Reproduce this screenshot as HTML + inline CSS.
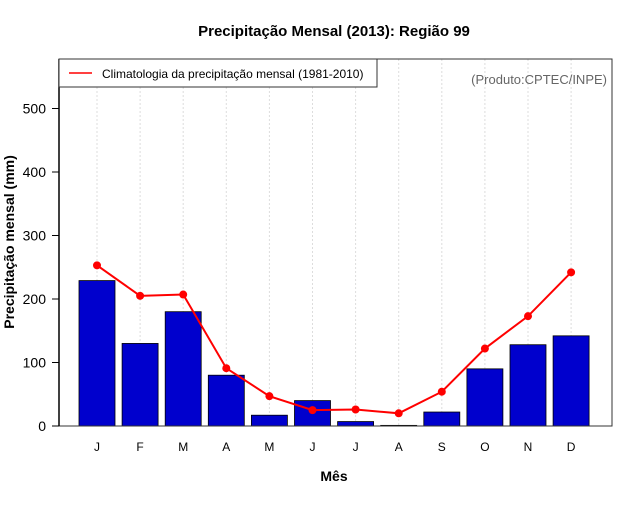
<!DOCTYPE html>
<html><head><meta charset="utf-8"><style>
body{margin:0;background:#fff;}
svg text{font-family:"Liberation Sans",sans-serif;}
</style></head><body>
<svg id="c" width="640" height="500" xmlns="http://www.w3.org/2000/svg">
<rect width="640" height="500" fill="#fff"/>
<text x="334" y="36" text-anchor="middle" font-size="15" font-weight="bold">Precipitação Mensal (2013): Região 99</text>
<g id="grid"></g>
<g id="bars"></g>
<g id="line"></g>
<rect x="59" y="59" width="553" height="367" fill="none" stroke="#333" stroke-width="1"/>
<line x1="59" y1="59" x2="59" y2="426" stroke="#000" stroke-width="1.5"/>
<g id="yticks"></g>
<g id="xticks"></g>
<text x="334" y="481" text-anchor="middle" font-size="14" font-weight="bold">Mês</text>
<text transform="translate(14,242) rotate(-90)" text-anchor="middle" font-size="14" font-weight="bold">Precipitação mensal (mm)</text>
<g>
<rect x="59" y="59" width="318" height="28" fill="#fff" stroke="#333"/>
<line x1="69" y1="73" x2="92" y2="73" stroke="#f00" stroke-width="1.5"/>
<text x="102" y="78" font-size="12">Climatologia da precipitação mensal (1981-2010)</text>
</g>
<text x="607" y="84" text-anchor="end" font-size="13" fill="#666">(Produto:CPTEC/INPE)</text>
</svg>
<script>
const months=["J","F","M","A","M","J","J","A","S","O","N","D"];
const observed=[229,130,180,80,17,40,7,1,22,90,128,142];
const climatology=[253,205,207,91,47,25,26,20,54,122,173,242];
const yTicks=[0,100,200,300,400,500];
const NS="http://www.w3.org/2000/svg";
function xs(i){return 97+i*43.1;}
function ys(v){return 426-v*0.635;}
function mk(t,a,p){const e=document.createElementNS(NS,t);for(const k in a)e.setAttribute(k,a[k]);p.appendChild(e);return e;}
const g=document.getElementById('grid'),b=document.getElementById('bars'),l=document.getElementById('line'),yt=document.getElementById('yticks'),xt=document.getElementById('xticks');
months.forEach((m,i)=>{
  const gl=mk('line',{x1:xs(i),x2:xs(i),y1:59,y2:426,stroke:"#ddd","stroke-dasharray":"2,2"},g);
  
  
  const r=mk('rect',{x:xs(i)-18,y:ys(observed[i]),width:36,height:ys(0)-ys(observed[i]),fill:"#0000cd",stroke:"#000","stroke-width":0.8},b);
  
  
  const t=mk('text',{x:xs(i),y:451,"text-anchor":"middle","font-size":12},xt);
  t.textContent=m;
  
  
});
const pl=mk('polyline',{points:climatology.map((v,i)=>xs(i)+","+ys(v)).join(" "),fill:"none",stroke:"#f00","stroke-width":2},l);


climatology.forEach((v,i)=>{
  const c=mk('circle',{cx:xs(i),cy:ys(v),r:4,fill:"#f00"},l);
  
  
});
yTicks.forEach(v=>{
  const tl=mk('line',{x1:52,x2:59,y1:ys(v),y2:ys(v),stroke:"#000"},yt);
  
  
  const t=mk('text',{x:46,y:ys(v)+5,"text-anchor":"end","font-size":14},yt);
  t.textContent=v;
  
  
});
</script>
</body></html>
